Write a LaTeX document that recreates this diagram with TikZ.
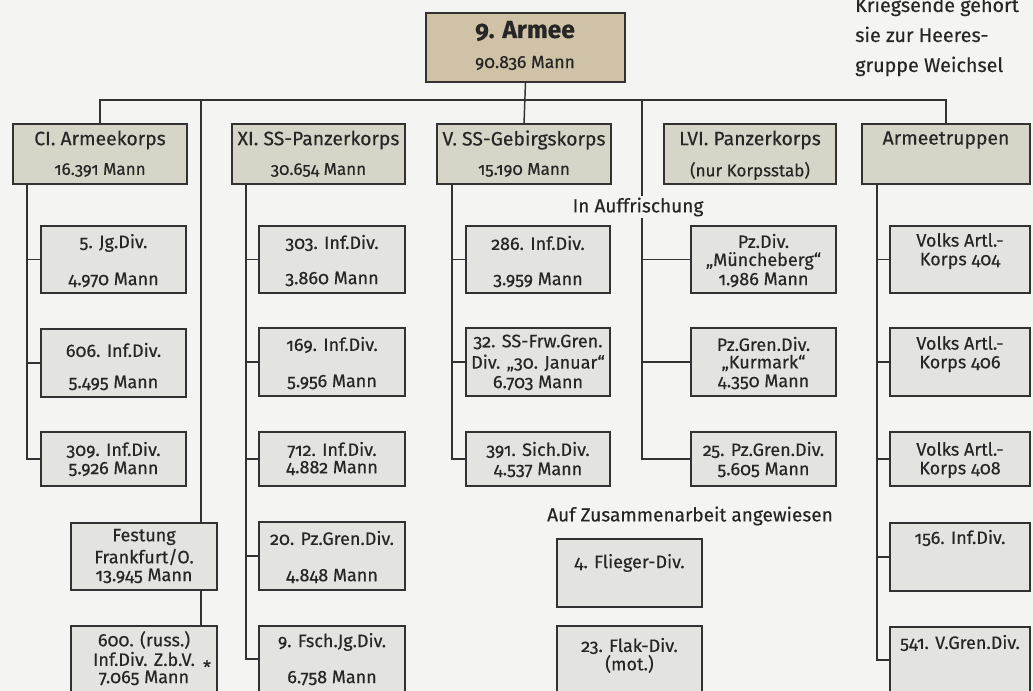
\documentclass[tikz,border=0pt]{standalone}
\usepackage{fontspec}
\setmainfont{Fira Sans}[Numbers=OldStyle, FakeBold=0.35]
\usetikzlibrary{calc}
\definecolor{paper}{RGB}{244,244,242}
\definecolor{ink}{RGB}{38,38,38}
\definecolor{edge}{RGB}{50,50,50}
\definecolor{armeefill}{RGB}{207,194,166}
\definecolor{korpsfill}{RGB}{215,213,199}
\definecolor{divfill}{RGB}{227,227,223}
\newcommand\mybox[6]{\node[#1, minimum width={(#5-#3)*0.75pt}, minimum height={(#6-#4)*0.75pt}] (#2) at ({(#3+#5)/2},{(#4+#6)/2}) {};}
\tikzset{
  boxbase/.style={draw=edge, line width=1.1pt, inner sep=0pt, outer sep=0pt},
  armeebox/.style={boxbase, fill=armeefill},
  korpsbox/.style={boxbase, fill=korpsfill},
  divbox/.style={boxbase, fill=divfill},
  link/.style={draw=edge, line width=1.1pt},
  tdiv/.style={font=\fontsize{13.5}{16}\selectfont, text=ink, inner sep=0pt},
  tkorps/.style={font=\fontsize{14.5}{17}\selectfont, text=ink, inner sep=0pt},
  tkorpsb/.style={font=\fontsize{12.8}{15}\selectfont, text=ink, inner sep=0pt},
  thead/.style={font=\fontsize{14.3}{17}\selectfont, text=ink, inner sep=1pt},
  tnote/.style={font=\fontsize{14.8}{17}\selectfont, text=ink, inner sep=0pt, anchor=base west},
}
\begin{document}
\begin{tikzpicture}[x=0.75pt,y=-0.75pt]
\fill[paper] (0,0) rectangle (1033,691);
\useasboundingbox (0,0) rectangle (1033,691);

% ---------- boxes ----------
\mybox{armeebox}{armee}{426}{13}{625}{82}
\mybox{korpsbox}{ci}{13}{124}{187}{184}
\mybox{korpsbox}{xi}{232}{124}{405}{184}
\mybox{korpsbox}{vss}{437}{124}{611}{184}
\mybox{korpsbox}{lvi}{664}{124}{836}{184}
\mybox{korpsbox}{at}{862}{124}{1030}{184}

\mybox{divbox}{d5jg}{41}{226}{186}{293}
\mybox{divbox}{d606}{41}{329}{186}{397}
\mybox{divbox}{d309}{41}{432}{186}{486}
\mybox{divbox}{ffo}{71}{523}{217}{590}
\mybox{divbox}{r600}{71}{626}{217}{692}

\mybox{divbox}{d303}{259}{226}{405}{293}
\mybox{divbox}{d169}{259}{328}{405}{396}
\mybox{divbox}{d712}{259}{432}{405}{486}
\mybox{divbox}{d20}{259}{522}{405}{590}
\mybox{divbox}{d9f}{259}{626}{405}{692}

\mybox{divbox}{d286}{466}{226}{610}{293}
\mybox{divbox}{d32}{466}{328}{610}{396}
\mybox{divbox}{d391}{466}{432}{610}{486}
\mybox{divbox}{flieg}{557}{539}{702}{607}
\mybox{divbox}{flak}{557}{626}{702}{692}

\mybox{divbox}{pzm}{691}{226}{836}{293}
\mybox{divbox}{kur}{691}{328}{836}{396}
\mybox{divbox}{p25}{691}{432}{836}{486}

\mybox{divbox}{v404}{890}{226}{1030}{293}
\mybox{divbox}{v406}{890}{328}{1030}{396}
\mybox{divbox}{v408}{890}{432}{1030}{486}
\mybox{divbox}{d156}{890}{523}{1030}{591}
\mybox{divbox}{d541}{890}{627}{1030}{693}

% ---------- connectors ----------
\draw[link] (armee.south) -- (vss.north);
\draw[link] (ci.north) -- ++(0,-24) -| (at.north);
\coordinate (ftrunk) at ($(ffo.north east)+(-16,0)$);
\draw[link] (ftrunk) -- (ftrunk |- 0,100);
\draw[link] ($(ffo.south east)+(-16,0)$) -- ($(r600.north east)+(-16,0)$);
\coordinate (auf) at (642,100);

\coordinate (citr) at ($(ci.south west)+(14,0)$);
\draw[link] (citr) |- (d309.west);
\draw[link] (d5jg.west) -- (d5jg.west -| citr);
\draw[link] (d606.west) -- (d606.west -| citr);

\coordinate (xitr) at ($(xi.south west)+(14,0)$);
\draw[link] (xitr) |- (d9f.west);
\draw[link] (d303.west) -- (d303.west -| xitr);
\draw[link] (d169.west) -- (d169.west -| xitr);
\draw[link] (d712.west) -- (d712.west -| xitr);
\draw[link] (d20.west) -- (d20.west -| xitr);

\coordinate (vtr) at ($(vss.south west)+(15,0)$);
\draw[link] (vtr) |- (d391.west);
\draw[link] (d286.west) -- (d286.west -| vtr);
\draw[link] (d32.west) -- (d32.west -| vtr);

\draw[link] (auf) |- (p25.west);
\draw[link] (pzm.west) -- (pzm.west -| auf);
\draw[link] (kur.west) -- (kur.west -| auf);

\coordinate (attr) at ($(at.south west)+(15,0)$);
\draw[link] (attr) |- (d541.west);
\draw[link] (v404.west) -- (v404.west -| attr);
\draw[link] (v406.west) -- (v406.west -| attr);
\draw[link] (v408.west) -- (v408.west -| attr);
\draw[link] (d156.west) -- (d156.west -| attr);

% ---------- free texts ----------
\node[thead, fill=paper] (aufr) at (638,207) {In Auffrischung};
\node[thead] (zus) at (690,516) {Auf Zusammenarbeit angewiesen};
\node[tnote] (note1) at (855,12) {Kriegsende gehört};
\node[tnote] (note2) at (855,42) {sie zur Heeres-};
\node[tnote] (note3) at (855,72) {gruppe Weichsel};

% ---------- box texts ----------
\node[font=\bfseries\fontsize{18.5}{22}\selectfont, text=ink, inner sep=0pt] (armee1) at (525,31) {9. Armee};
\node[font=\fontsize{13.2}{15}\selectfont, text=ink, inner sep=0pt] (armee2) at (525,63) {90.836 Mann};

\node[tkorps] (ci1) at (ci.center |- 0,140) {CI. Armeekorps};
\node[tkorpsb] (ci2) at (ci.center |- 0,170) {16.391 Mann};
\node[tkorps] (xi1) at (xi.center |- 0,140) {XI. SS-Panzerkorps};
\node[tkorpsb] (xi2) at (xi.center |- 0,170) {30.654 Mann};
\node[tkorps] (v1) at (vss.center |- 0,140) {V. SS-Gebirgskorps};
\node[tkorpsb] (v2) at (vss.center |- 0,170) {15.190 Mann};
\node[tkorps] (lvi1) at (lvi.center |- 0,140) {LVI. Panzerkorps};
\node[tkorpsb] (lvi2) at (lvi.center |- 0,171) {(nur Korpsstab)};
\node[tkorps] (at1) at (at.center |- 0,140) {Armeetruppen};

\node[tdiv] (t5a) at (d5jg.center |- 0,243) {5. Jg.Div.};
\node[tdiv] (t5b) at (d5jg.center |- 0,280) {4.970 Mann};
\node[tdiv] (t606a) at (d606.center |- 0,350) {606. Inf.Div.};
\node[tdiv] (t606b) at (d606.center |- 0,383) {5.495 Mann};
\node[tdiv] (t309a) at (d309.center |- 0,450) {309. Inf.Div.};
\node[tdiv] (t309b) at (d309.center |- 0,469) {5.926 Mann};
\node[tdiv] (tffa) at (ffo.center |- 0,537) {Festung};
\node[tdiv] (tffb) at (ffo.center |- 0,557) {Frankfurt/O.};
\node[tdiv] (tffc) at (ffo.center |- 0,576) {13.945 Mann};
\node[tdiv] (t600a) at (r600.center |- 0,640) {600. (russ.)};
\node[tdiv] (t600b) at (r600.center |- 0,659) {Inf.Div. Z.b.V.};
\node[tdiv] (t600c) at (r600.center |- 0,678) {7.065 Mann};
\node[tdiv] (star) at (207,667) {*};

\node[tdiv] (t303a) at (d303.center |- 0,243) {303. Inf.Div.};
\node[tdiv] (t303b) at (d303.center |- 0,279) {3.860 Mann};
\node[tdiv] (t169a) at (d169.center |- 0,345) {169. Inf.Div.};
\node[tdiv] (t169b) at (d169.center |- 0,382) {5.956 Mann};
\node[tdiv] (t712a) at (d712.center |- 0,450) {712. Inf.Div.};
\node[tdiv] (t712b) at (d712.center |- 0,468) {4.882 Mann};
\node[tdiv] (t20a) at (d20.center |- 0,538) {20. Pz.Gren.Div.};
\node[tdiv] (t20b) at (d20.center |- 0,576) {4.848 Mann};
\node[tdiv] (t9fa) at (d9f.center |- 0,642) {9. Fsch.Jg.Div.};
\node[tdiv] (t9fb) at (d9f.center |- 0,678) {6.758 Mann};

\node[tdiv] (t286a) at (d286.center |- 0,243) {286. Inf.Div.};
\node[tdiv] (t286b) at (d286.center |- 0,280) {3.959 Mann};
\node[tdiv] (t32a) at (d32.center |- 0,342) {32. SS-Frw.Gren.};
\node[tdiv] (t32b) at (d32.center |- 0,363) {Div. „30. Januar“};
\node[tdiv] (t32c) at (d32.center |- 0,383) {6.703 Mann};
\node[tdiv] (t391a) at (d391.center |- 0,450) {391. Sich.Div.};
\node[tdiv] (t391b) at (d391.center |- 0,470) {4.537 Mann};
\node[tdiv] (tflieg) at (flieg.center |- 0,563) {4. Flieger-Div.};
\node[tdiv] (tflaka) at (flak.center |- 0,646) {23. Flak-Div.};
\node[tdiv] (tflakb) at (flak.center |- 0,664) {(mot.)};

\node[tdiv] (tpzma) at (pzm.center |- 0,241) {Pz.Div.};
\node[tdiv] (tpzmb) at (pzm.center |- 0,261) {„Müncheberg“};
\node[tdiv] (tpzmc) at (pzm.center |- 0,280) {1.986 Mann};
\node[tdiv] (tkura) at (kur.center |- 0,344) {Pz.Gren.Div.};
\node[tdiv] (tkurb) at (kur.center |- 0,363) {„Kurmark“};
\node[tdiv] (tkurc) at (kur.center |- 0,382) {4.350 Mann};
\node[tdiv] (tp25a) at (p25.center |- 0,450) {25. Pz.Gren.Div.};
\node[tdiv] (tp25b) at (p25.center |- 0,470) {5.605 Mann};

\node[tdiv] (tv404a) at (v404.center |- 0,240) {Volks Artl.-};
\node[tdiv] (tv404b) at (v404.center |- 0,261) {Korps 404};
\node[tdiv] (tv406a) at (v406.center |- 0,343) {Volks Artl.-};
\node[tdiv] (tv406b) at (v406.center |- 0,364) {Korps 406};
\node[tdiv] (tv408a) at (v408.center |- 0,449) {Volks Artl.-};
\node[tdiv] (tv408b) at (v408.center |- 0,470) {Korps 408};
\node[tdiv] (t156) at (d156.center |- 0,538) {156. Inf.Div.};
\node[tdiv] (t541) at (d541.center |- 0,643) {541. V.Gren.Div.};
\end{tikzpicture}
\end{document}
